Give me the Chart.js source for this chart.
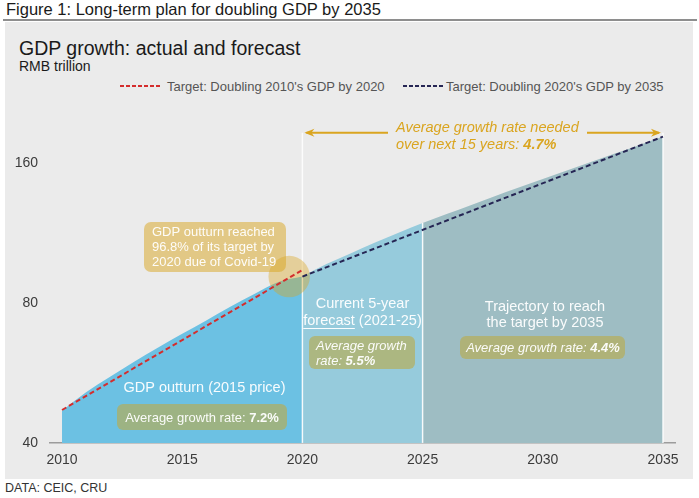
<!DOCTYPE html>
<html>
<head>
<meta charset="utf-8">
<script src="https://cdn.jsdelivr.net/npm/chart.js@4.4.1/dist/chart.umd.min.js"></script>
<style>
  body { margin: 0; width: 699px; height: 498px; background: #fff; position: relative; overflow: hidden;
         font-family: 'Liberation Sans', Arial, sans-serif; }
  .abs { position: absolute; white-space: nowrap; line-height: 1; }
</style>
</head>
<body>
<div class="abs" style="left:6px;top:1px;font-size:16.5px;color:#1a1a1a">Figure 1: Long-term plan for doubling GDP by 2035</div>
<div class="abs" style="left:3px;top:19px;width:694px;height:2px;background:#8e8e8e"></div>
<div class="abs" style="left:5px;top:22px;width:688px;height:457px;background:#ebebeb"></div>
<div class="abs" style="left:19px;top:39px;font-size:19.5px;color:#1a1a1a">GDP growth: actual and forecast</div>
<div class="abs" style="left:19px;top:59px;font-size:14px;color:#1a1a1a">RMB trillion</div>
<svg class="abs" style="left:120px;top:84px" width="42" height="4"><line x1="0" y1="2" x2="42" y2="2" stroke="#d42d2d" stroke-width="2" stroke-dasharray="4 2"/></svg>
<div class="abs" style="left:167px;top:80px;font-size:13px;color:#555">Target: Doubling 2010's GDP by 2020</div>
<svg class="abs" style="left:403px;top:84px" width="42" height="4"><line x1="0" y1="2" x2="42" y2="2" stroke="#262654" stroke-width="2" stroke-dasharray="4 2"/></svg>
<div class="abs" style="left:446px;top:80px;font-size:13px;color:#555">Target: Doubling 2020's GDP by 2035</div>
<div class="abs" style="left:5px;top:482px;font-size:12.5px;color:#333">DATA: CEIC, CRU</div>
<canvas id="grafico" class="abs" style="left:0;top:0;width:699px;height:498px" width="699" height="498"></canvas>
<script>
const FAM = "'Liberation Sans', Arial, sans-serif"
Chart.defaults.font.family = FAM

// GDP, RMB trillion (2015 price): outturn to 2020, then forecast/trajectory
const years = [2010, 2011, 2012, 2013, 2014, 2015, 2016, 2017, 2018, 2019, 2020,
  2021, 2022, 2023, 2024, 2025, 2026, 2027, 2028, 2029, 2030, 2031, 2032, 2033, 2034, 2035]
const gdp = [46.9, 51.4, 55.5, 59.8, 64.2, 68.7, 73.4, 78.5, 83.7, 88.8, 91.2,
  97.0, 102.3, 107.8, 113.3, 118.9, 124.3, 129.9, 135.7, 141.7, 147.9, 154.3, 160.9, 167.7, 174.8, 182.4]

const target2020Years = [2010, 2020]
const target2020 = [47.1, 94.2]
const target2035Years = [2020, 2035]
const target2035 = [91.2, 182.4]

const phaseStarts = [2010, 2020, 2025]
const phaseEnds = [2020, 2025, 2035]
const xTicks = [2010, 2015, 2020, 2025, 2030, 2035]
const yTicks = [40, 80, 160]

const pts = (xs, ys) => xs.map((x, i) => ({ x: x, y: ys[i] }))
const phase = i => pts(years, gdp).filter(p => p.x >= phaseStarts[i] && p.x <= phaseEnds[i])

const GOLD = '#daa520'

function box(ctx, x, y, w, h, r, color) {
  ctx.fillStyle = color
  ctx.beginPath()
  ctx.moveTo(x + r, y)
  ctx.arcTo(x + w, y, x + w, y + h, r)
  ctx.arcTo(x + w, y + h, x, y + h, r)
  ctx.arcTo(x, y + h, x, y, r)
  ctx.arcTo(x, y, x + w, y, r)
  ctx.closePath()
  ctx.fill()
}

// parts: [[text, bold], ...]
function rich(ctx, parts, x, y, align, size, italic, color) {
  const font = b => (italic ? 'italic ' : '') + (b ? 'bold ' : '') + size + 'px ' + FAM
  let w = 0
  parts.forEach(p => { ctx.font = font(p[1]); w += ctx.measureText(p[0]).width })
  let cx = align === 'center' ? x - w / 2 : x
  const start = cx
  ctx.textAlign = 'left'
  ctx.textBaseline = 'middle'
  ctx.fillStyle = color
  parts.forEach(p => { ctx.font = font(p[1]); ctx.fillText(p[0], cx, y); cx += ctx.measureText(p[0]).width })
  return start
}

const notes = {
  id: 'notes',
  afterDatasetDraw(chart, args) {
    if (args.index !== 2) return
    const { ctx, chartArea, scales: { x, y } } = chart
    const arrowY = y.getPixelForValue(186)
    ctx.save()
    // dividers between phases
    ctx.strokeStyle = 'rgba(255,255,255,0.85)'
    ctx.lineWidth = 1.5
    ;[2020, 2025, 2035].forEach(yr => {
      const top = yr === 2025 ? y.getPixelForValue(gdp[years.indexOf(yr)]) : arrowY
      ctx.beginPath()
      ctx.moveTo(x.getPixelForValue(yr), top)
      ctx.lineTo(x.getPixelForValue(yr), chartArea.bottom)
      ctx.stroke()
    })
    // covid highlight
    ctx.fillStyle = 'rgba(218,165,32,0.4)'
    ctx.beginPath()
    ctx.arc(x.getPixelForValue(2019.45), y.getPixelForValue(91.2), 20.7, 0, Math.PI * 2)
    ctx.fill()
    ctx.restore()
  },
  afterDatasetsDraw(chart) {
    const { ctx, scales: { x, y } } = chart
    const arrowY = y.getPixelForValue(186)
    ctx.save()

    // arrow for the 15 years
    const x0 = x.getPixelForValue(2020) + 2, x1 = x.getPixelForValue(2035) - 2
    ctx.strokeStyle = GOLD
    ctx.fillStyle = GOLD
    ctx.lineWidth = 2
    ctx.beginPath()
    ctx.moveTo(x0 + 2, arrowY); ctx.lineTo(388, arrowY)
    ctx.moveTo(587, arrowY); ctx.lineTo(x1 - 2, arrowY)
    ctx.stroke()
    ctx.beginPath()
    ctx.moveTo(x0, arrowY); ctx.lineTo(x0 + 10, arrowY - 4); ctx.lineTo(x0 + 7, arrowY); ctx.lineTo(x0 + 10, arrowY + 4)
    ctx.closePath(); ctx.fill()
    ctx.beginPath()
    ctx.moveTo(x1, arrowY); ctx.lineTo(x1 - 10, arrowY - 4); ctx.lineTo(x1 - 7, arrowY); ctx.lineTo(x1 - 10, arrowY + 4)
    ctx.closePath(); ctx.fill()
    rich(ctx, [['Average growth rate needed', false]], 396, 128, 'left', 14.5, true, GOLD)
    rich(ctx, [['over next 15 years: ', false], ['4.7%', true]], 396, 145, 'left', 14.5, true, GOLD)

    // covid note
    box(ctx, 144, 222, 142, 50, 7, 'rgba(218,165,32,0.5)')
    const wt = 'rgba(255,255,255,0.95)'
    rich(ctx, [['GDP outturn reached', false]], 152, 232, 'left', 13, false, wt)
    rich(ctx, [['96.8% of its target by', false]], 152, 247, 'left', 13, false, wt)
    rich(ctx, [['2020 due of Covid-19', false]], 152, 262, 'left', 13, false, wt)

    // phase labels
    const olive = 'rgba(184,172,80,0.65)'
    rich(ctx, [['GDP outturn (2015 price)', false]], 204.5, 388, 'center', 14.5, false, wt)
    box(ctx, 117, 404, 170, 26, 6, olive)
    rich(ctx, [['Average growth rate: ', false], ['7.2%', true]], 202, 418, 'center', 13, false, wt)

    rich(ctx, [['Current 5-year', false]], 362.5, 304, 'center', 14.5, false, wt)
    const s = rich(ctx, [['forecast', false], [' (2021-25)', false]], 362.5, 321, 'center', 14.5, false, wt)
    ctx.font = '14.5px ' + FAM
    ctx.strokeStyle = wt
    ctx.lineWidth = 1
    ctx.beginPath(); ctx.moveTo(s, 328.5); ctx.lineTo(s + ctx.measureText('forecast').width, 328.5); ctx.stroke()
    box(ctx, 309, 336, 106, 33, 6, olive)
    rich(ctx, [['Average growth', false]], 316, 346, 'left', 13, true, wt)
    rich(ctx, [['rate: ', false], ['5.5%', true]], 316, 361, 'left', 13, true, wt)

    rich(ctx, [['Trajectory to reach', false]], 545, 307, 'center', 14.5, false, wt)
    rich(ctx, [['the target by 2035', false]], 545, 323, 'center', 14.5, false, wt)
    box(ctx, 460, 336, 165, 23, 6, olive)
    rich(ctx, [['Average growth rate: ', false], ['4.4%', true]], 543, 348, 'center', 13, true, wt)

    ctx.restore()
  }
}

const line = (label, data, color) => ({
  label, data, borderColor: color, borderWidth: 2, borderDash: [5, 3],
  pointRadius: 0, fill: false, tension: 0
})
const area = (data, color) => ({
  data, backgroundColor: color, borderWidth: 0, pointRadius: 0,
  fill: 'start', cubicInterpolationMode: 'monotone'
})

const chart = new Chart(document.getElementById('grafico'), {
  type: 'line',
  data: {
    datasets: [
      line("Target: Doubling 2010's GDP by 2020", pts(target2020Years, target2020), '#d42d2d'),
      line("Target: Doubling 2020's GDP by 2035", pts(target2035Years, target2035), '#262654'),
      area(phase(0), '#6cc1e3'),
      area(phase(1), '#96cbdc'),
      area(phase(2), '#9ebdc3')
    ]
  },
  options: {
    responsive: false,
    animation: false,
    layout: { padding: { top: 118, right: 24, left: 0, bottom: 0 } },
    plugins: { legend: { display: false }, tooltip: { enabled: false } },
    scales: {
      x: {
        type: 'linear', min: 2009.5, max: 2035.5,
        afterBuildTicks: s => { s.ticks = xTicks.map(v => ({ value: v })) },
        afterFit: s => { s.height = 55 },
        ticks: { font: { size: 14 }, color: '#3c3c3c', padding: 9, callback: v => String(v) },
        grid: { display: false, drawTicks: false },
        border: { display: true, color: '#9c9c9c', width: 1.5 }
      },
      y: {
        type: 'logarithmic', min: 40, max: 200,
        afterBuildTicks: s => { s.ticks = yTicks.map(v => ({ value: v })) },
        afterFit: s => { s.width = 50 },
        ticks: { font: { size: 14 }, color: '#3c3c3c', padding: 12, callback: v => String(v) },
        grid: { display: false, drawTicks: false },
        border: { display: false }
      }
    }
  },
  plugins: [notes]
})
</script>
</body>
</html>
